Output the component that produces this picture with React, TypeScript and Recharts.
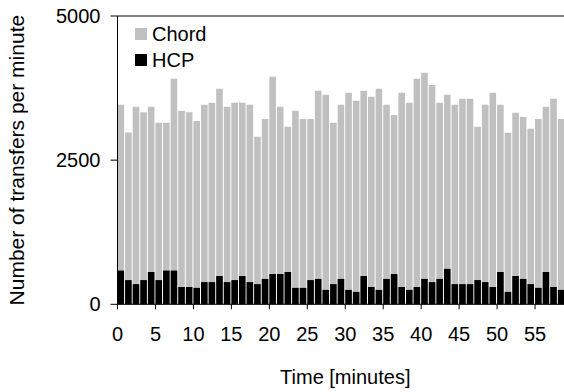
import { BarChart, Bar, XAxis, YAxis, ReferenceLine } from 'recharts';

const minutes = [
  0, 1, 2, 3, 4, 5, 6, 7, 8, 9, 10, 11, 12, 13, 14, 15, 16, 17, 18, 19,
  20, 21, 22, 23, 24, 25, 26, 27, 28, 29, 30, 31, 32, 33, 34, 35, 36, 37, 38, 39,
  40, 41, 42, 43, 44, 45, 46, 47, 48, 49, 50, 51, 52, 53, 54, 55, 56, 57, 58, 59,
];

const chordTransfers = [
  3460, 2980, 3425, 3330, 3425, 3150, 3150, 3910, 3355, 3330, 3180, 3460, 3495, 3740, 3425,
  3495, 3495, 3460, 2905, 3215, 3945, 3425, 3080, 3355, 3215, 3215, 3705, 3635, 3150, 3460,
  3670, 3530, 3705, 3600, 3740, 3460, 3285, 3670, 3495, 3910, 4015, 3805, 3495, 3635, 3460,
  3565, 3565, 3080, 3460, 3670, 3460, 2975, 3320, 3250, 3045, 3215, 3425, 3565, 3215, 3285,
];

const hcpTransfers = [
  585, 420, 350, 420, 560, 420, 585, 585, 300, 300, 285, 385, 385, 490, 385,
  420, 490, 385, 350, 440, 525, 525, 560, 285, 285, 420, 440, 250, 350, 440,
  250, 215, 490, 300, 250, 440, 525, 300, 250, 300, 440, 385, 440, 615, 350,
  350, 350, 420, 385, 300, 560, 215, 490, 440, 350, 285, 560, 300, 250, 350,
];

const seriesNames = ['Chord', 'HCP'];
const seriesColors = ['#c0c0c0', '#000000'];

const minuteTicks = [0, 5, 10, 15, 20, 25, 30, 35, 40, 45, 50, 55];
const yTicks = [0, 2500, 5000];

// each minute bin covers [m, m+1), so the bar sits in the middle of it
const data = minutes.map((m, i) => ({
  t: m + 0.5,
  chord: chordTransfers[i],
  hcp: hcpTransfers[i],
}));

const font = '"Liberation Sans", Arial, sans-serif';

const LegendBox = () => (
  <div style={{ position: 'absolute', left: 135, top: 21, fontFamily: font, fontSize: 20, color: '#000' }}>
    {seriesNames.map((name, i) => (
      <div key={name} style={{ display: 'flex', alignItems: 'center', height: 26 }}>
        <span style={{ width: 12, height: 12, background: seriesColors[i], marginRight: 5, display: 'inline-block' }} />
        <span>{name}</span>
      </div>
    ))}
  </div>
);

export default function App() {
  return (
    <div style={{ position: 'absolute', left: 0, top: 0, width: 564, height: 392, overflow: 'hidden', background: '#fff' }}>
      <BarChart
        width={600}
        height={392}
        data={data}
        margin={{ top: 16, right: 27, bottom: 0, left: 0 }}
        style={{ fontFamily: font }}
      >
        <XAxis
          xAxisId="a"
          type="number"
          dataKey="t"
          domain={[0, 60]}
          ticks={minuteTicks}
          interval={0}
          height={87.7}
          tickSize={5}
          tickMargin={17}
          stroke="#000"
          tick={{ fill: '#000', fontSize: 20 }}
          label={{ value: 'Time [minutes]', position: 'insideBottom', offset: 8, fill: '#000', fontSize: 20 }}
        />
        <XAxis xAxisId="b" type="number" dataKey="t" domain={[0, 60]} hide />
        <YAxis
          domain={[0, 5000]}
          ticks={yTicks}
          width={117.5}
          tickSize={7}
          tickMargin={10}
          stroke="#000"
          tick={{ fill: '#000', fontSize: 20 }}
          label={{
            value: 'Number of transfers per minute',
            angle: -90,
            position: 'insideLeft',
            offset: 17,
            fill: '#000',
            fontSize: 21,
            style: { textAnchor: 'middle' },
          }}
        />
        <ReferenceLine xAxisId="a" y={5000} stroke="#000" />
        <Bar xAxisId="a" dataKey="chord" name={seriesNames[0]} fill={seriesColors[0]} barSize={6.6} isAnimationActive={false} />
        <Bar xAxisId="b" dataKey="hcp" name={seriesNames[1]} fill={seriesColors[1]} barSize={6.6} isAnimationActive={false} />
      </BarChart>
      <LegendBox />
    </div>
  );
}
